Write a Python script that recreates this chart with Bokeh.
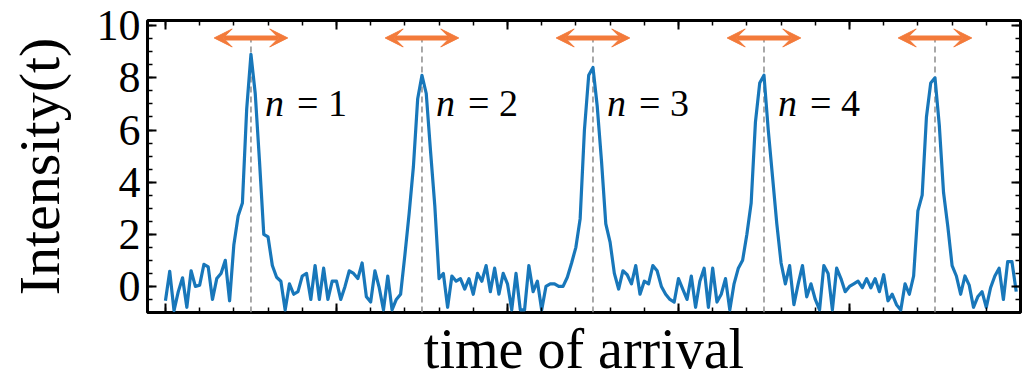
import numpy as np
from bokeh.plotting import figure
from bokeh.models import (ColumnDataSource, Arrow, VeeHead, LinearAxis,
                          SingleIntervalTicker, Range1d)
from bokeh.core.properties import value
from bokeh.embed import file_html
from bokeh.resources import INLINE

# ---- data ----
period1 = [-0.55, 0.58, -0.93, -0.2, 0.33, -0.8, 0.6, 0.0, 0.05, 0.85,
           0.75, -0.5, 0.3, 0.5, 1.0, -0.55, 1.6, 2.7, 3.2, 6.8,
           8.9, 7.4, 4.8, 2.0, 1.9, 0.8, 0.35, 0.2, -0.9, 0.1,
           -0.3, -0.2, 0.4, 0.5, -0.5, 0.8, -0.5, 0.7, -0.5, 0.2]
period2 = [0.2, -0.5, 0.0, 0.6, 0.5, 0.3, 0.9, -0.4, -0.6, 0.6,
           -0.05, -0.9, 0.4, -0.9, -0.5, -0.3, 1.2, 2.8, 4.6, 7.2,
           8.1, 7.4, 5.2, 3.1, 0.3, 0.5, -0.8, 0.4, 0.2, 0.3,
           -0.1, 0.3, -0.3, 0.5, 0.2, 0.8, -0.2, 0.7, -0.3, 0.5]
period3 = [0.1, -0.9, 0.5, -0.9, -0.9, 0.8, -0.2, 0.2, -0.9, 0.0,
           0.1, 0.1, 0.0, 0.0, 0.35, 0.9, 1.5, 2.6, 6.0, 8.1,
           8.4, 6.9, 4.8, 2.4, 1.7, 0.5, -0.1, 0.6, 0.45, 0.1,
           0.8, -0.3, 0.2, 0.1, 0.8, 0.6, 0.0, -0.3, -0.5, -0.6]
period4 = [0.3, -0.1, -0.5, 0.4, -0.8, 0.2, 0.7, -0.8, 0.7, -0.6,
           -0.3, 0.3, -0.9, 0.1, 0.7, 1.0, 2.0, 3.2, 6.3, 7.8,
           8.1, 6.0, 4.2, 2.4, 0.9, 0.1, 0.8, -0.7, 0.1, 0.8,
           -0.4, 0.1, -0.5, -0.9, 0.8, 0.5, -0.9, 0.7, 0.3, -0.2]
period5 = [0.0, 0.1, 0.2, -0.05, 0.3, -0.05, 0.3, -0.2, 0.45, -0.55,
           -0.3, -0.7, -0.9, 0.1, -0.3, 0.4, 2.9, 3.5, 6.5, 7.8,
           8.0, 6.2, 3.6, 2.3, 0.8, 0.4, -0.3, 0.4, 0.05, -0.8,
           -0.4, -0.2, -0.8, -0.05, 0.4, 0.7, -0.5, 0.95, 0.95, -0.2]
samples_per_period = 40
peak_centers = [0.5, 1.5, 2.5, 3.5, 4.5]
peak_labels = ["1", "2", "3", "4"]
y_ticks_major = 2
x_ticks_major = 1

intensity = period1 + period2 + period3 + period4 + period5
t = np.arange(len(intensity)) / samples_per_period

BLUE = "#1877ba"
ORANGE = "#f37a3a"
FONT = "Liberation Serif"

p = figure(width=1032, height=382, output_backend="svg", toolbar_location=None,
           x_range=Range1d(-0.105, 5.0), y_range=Range1d(-1.0, 10.2),
           min_border_left=147, min_border_right=12, min_border_top=20,
           min_border_bottom=70, background_fill_color="white",
           border_fill_color="white")
p.grid.visible = False
p.outline_line_color = "black"
p.outline_line_width = 3

ARROW_Y = 9.53

# dashed guide lines at peak centres
n = len(peak_centers)
p.segment(x0=peak_centers, y0=[-1.0] * n, x1=peak_centers, y1=[ARROW_Y] * n,
          line_color="#8c8c8c", line_width=1.5, line_dash="6 4")

# signal
p.line(t, intensity, line_color=BLUE, line_width=3.2, line_join="round")

# double arrows
half = 0.215
arr_src = ColumnDataSource(dict(x0=[c - half for c in peak_centers],
                                x1=[c + half for c in peak_centers],
                                y=[ARROW_Y] * n))
p.add_layout(Arrow(start=VeeHead(size=18, fill_color=ORANGE, line_color=ORANGE, line_width=1),
                   end=VeeHead(size=18, fill_color=ORANGE, line_color=ORANGE, line_width=1),
                   x_start="x0", y_start="y", x_end="x1", y_end="y",
                   source=arr_src, line_color=ORANGE, line_width=5))

# n = k labels
m = len(peak_labels)
LABEL_Y = 7.05
p.text(x=peak_centers[:m], y=[LABEL_Y] * m, text=["n"] * m, x_offset=14,
       text_font=value(FONT), text_font_style="italic", text_font_size="38px",
       text_baseline="alphabetic", text_align="left", text_color="black")
p.text(x=peak_centers[:m], y=[LABEL_Y] * m, text=["= " + k for k in peak_labels],
       x_offset=46, text_font=value(FONT), text_font_size="38px",
       text_baseline="alphabetic", text_align="left", text_color="black")

# axes
def style_ticks(ax):
    ax.axis_line_color = None
    ax.major_tick_in = 9
    ax.major_tick_out = 0
    ax.minor_tick_in = 5
    ax.minor_tick_out = 0
    ax.major_tick_line_width = 2
    ax.minor_tick_line_width = 1.5
    ax.major_tick_line_color = "black"
    ax.minor_tick_line_color = "black"

def hide_labels(ax):
    ax.major_label_text_color = None
    ax.major_label_text_font_size = "1px"
    ax.major_label_standoff = 0

xb = p.xaxis[0]
xb.ticker = SingleIntervalTicker(interval=x_ticks_major, num_minor_ticks=5)
style_ticks(xb)
hide_labels(xb)
xb.axis_label = "time of arrival"
xb.axis_label_text_font = FONT
xb.axis_label_text_font_style = "normal"
xb.axis_label_text_font_size = "56px"
xb.axis_label_text_color = "black"
xb.axis_label_standoff = 5

yl = p.yaxis[0]
yl.ticker = SingleIntervalTicker(interval=y_ticks_major, num_minor_ticks=4)
style_ticks(yl)
yl.major_label_text_font = FONT
yl.major_label_text_font_size = "44px"
yl.major_label_text_color = "black"
yl.major_label_standoff = 7
yl.axis_label = "Intensity(t)"
yl.axis_label_text_font = FONT
yl.axis_label_text_font_style = "normal"
yl.axis_label_text_font_size = "58px"
yl.axis_label_text_color = "black"
yl.axis_label_standoff = 22

xt = LinearAxis(ticker=SingleIntervalTicker(interval=x_ticks_major, num_minor_ticks=5))
style_ticks(xt)
hide_labels(xt)
p.add_layout(xt, "above")

yr = LinearAxis(ticker=SingleIntervalTicker(interval=y_ticks_major, num_minor_ticks=4))
style_ticks(yr)
hide_labels(yr)
p.add_layout(yr, "right")

open("out.html", "w").write(file_html(p, INLINE))
